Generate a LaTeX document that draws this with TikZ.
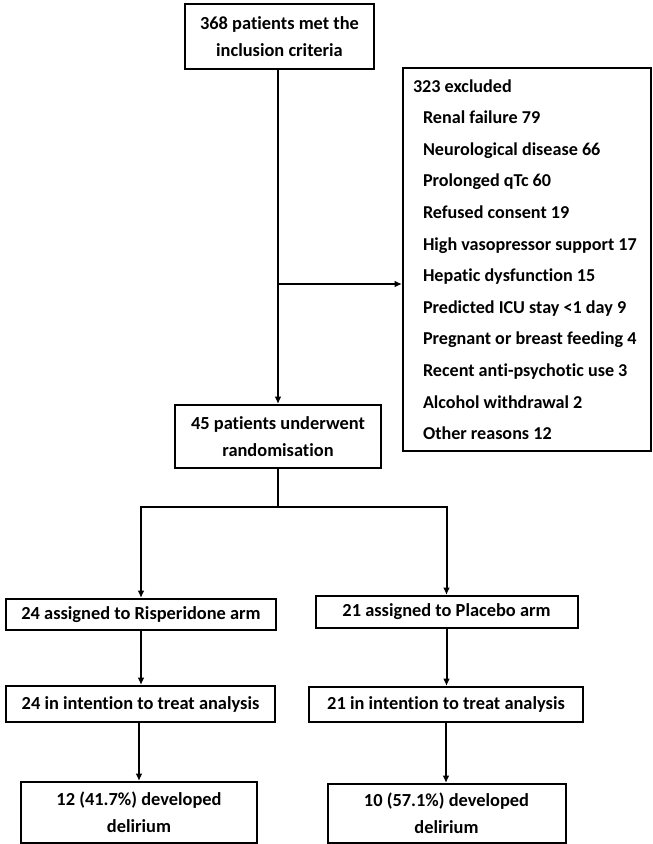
\documentclass[tikz,border=0pt]{standalone}
\usepackage{fontspec}
\setmainfont{Carlito}[Ligatures={NoCommon}]
\usetikzlibrary{arrows.meta}
\begin{document}
\begin{tikzpicture}[x=0.75pt,y=-0.75pt,
  box/.style={draw=black, line width=1.5pt, fill=white, inner sep=0pt, align=center,
    font=\fontsize{13.8}{20}\selectfont\bfseries},
  conn/.style={line width=1.5pt, -{Latex[length=5.5pt,width=5pt]}},
  plain/.style={line width=1.5pt}]
\useasboundingbox (0,0) rectangle (653,844);
\node[box, minimum width=141.75pt, minimum height=48.75pt] (top) at (279.5,36.5) {368 patients met the\\inclusion criteria};
\node[box, minimum width=186pt, minimum height=287pt, align=left, inner xsep=7.5pt,
  font=\fontsize{13.6}{23.7}\selectfont\bfseries] (excl) at (527,259.5)
  {\makebox[171pt][l]{\begin{tabular}{@{}l@{}}
   323 excluded\\
   \hspace*{7.5pt}Renal failure 79\\
   \hspace*{7.5pt}Neurological disease 66\\
   \hspace*{7.5pt}Prolonged qTc 60\\
   \hspace*{7.5pt}Refused consent 19\\
   \hspace*{7.5pt}High vasopressor support 17\\
   \hspace*{7.5pt}Hepatic dysfunction 15\\
   \hspace*{7.5pt}Predicted ICU stay <1 day 9\\
   \hspace*{7.5pt}Pregnant or breast feeding 4\\
   \hspace*{7.5pt}Recent anti-psychotic use 3\\
   \hspace*{7.5pt}Alcohol withdrawal 2\\
   \hspace*{7.5pt}Other reasons 12
   \end{tabular}}};
\node[box, minimum width=154.5pt, minimum height=47.25pt] (rand) at (278,436.5) {45 patients underwent\\randomisation};
\node[box, minimum width=202.5pt, minimum height=23.25pt] (A1) at (141,614.5) {24 assigned to Risperidone arm};
\node[box, minimum width=196.5pt, minimum height=24pt] (B1) at (446.5,612) {21 assigned to Placebo arm};
\node[box, minimum width=201.75pt, minimum height=27pt] (A2) at (140.5,704) {24 in intention to treat analysis};
\node[box, minimum width=205.5pt, minimum height=26.25pt] (B2) at (446,704.5) {21 in intention to treat analysis};
\node[box, minimum width=177pt, minimum height=45.75pt] (A3) at (139,812.5) {12 (41.7\%) developed\\delirium};
\node[box, minimum width=178.5pt, minimum height=44.25pt] (B3) at (446.5,813.5) {10 (57.1\%) developed\\delirium};
\coordinate (j) at (278,284);
\coordinate (s) at (278,507);
\draw[conn] (j |- top.south) -- (j |- rand.north);
\draw[conn] (j) -- (j -| excl.west);
\draw[plain] (s |- rand.south) -- (s);
\draw[conn] (s) -| (A1.north);
\draw[conn] (s) -| (B1.north);
\draw[conn] (A1.south) -- (A1.south |- A2.north);
\draw[conn] (B1.south) -- (B1.south |- B2.north);
\draw[conn] (A2.south -| A3.north) -- (A3.north);
\draw[conn] (B2.south) -- (B2.south |- B3.north);
\end{tikzpicture}
\end{document}
